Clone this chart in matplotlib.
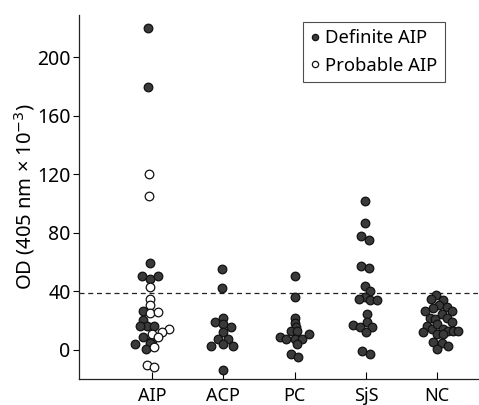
#!/usr/bin/env python3
"""OD at 405 nm per patient group, dot plot with cut-off line."""

import matplotlib

matplotlib.use("Agg")
import matplotlib.pyplot as plt
from matplotlib.lines import Line2D

plt.rcParams["font.family"] = ["Noto Sans", "DejaVu Sans"]

CATEGORIES = ["AIP", "ACP", "PC", "SjS", "NC"]
CUTOFF = 38.7

# values, (value, horizontal offset in category units)
AIP_DEFINITE = [220, 180, 59.2, 50.5, 48.7, 50.5, 26.6, 20.5, 16.4, 16.4, 16.4, 8.7, 6.4, 4.8, 3.9, 0.7]
AIP_DEFINITE_DX = [-0.06, -0.06, -0.03, -0.14, -0.03, 0.08, -0.13, -0.12, -0.07, -0.16, 0.03, -0.12, 0.0, -0.02, -0.24, -0.08]
AIP_PROBABLE = [120, 105, 43.2, 34.6, 30.7, 25, 26.2, 14.3, 12.5, 10.7, 8.7, 1.8, -10.2, -11.4]
AIP_PROBABLE_DX = [-0.04, -0.04, -0.03, -0.02, -0.02, -0.02, 0.09, 0.24, 0.14, 0.0, 0.09, 0.03, -0.07, 0.03]
ACP = [55.5, 42.5, 21.5, 19.3, 17.7, 15.9, 12.5, 7.3, 7.3, 4.1, 2.9, 2.7, -13.7]
ACP_DX = [-0.02, -0.02, 0.0, -0.12, 0.0, 0.11, -0.01, -0.07, 0.06, -0.01, -0.17, 0.14, -0.01]
PC = [50.7, 36.4, 22, 18.2, 15.5, 13, 13, 9.1, 7.5, 7.3, 7.5, 10.9, 4.1, -2.9, -4.6]
PC_DX = [0.0, 0.0, 0.0, 0.01, 0.02, -0.05, 0.04, -0.21, -0.12, 0.01, 0.1, 0.2, 0.04, -0.05, 0.05]
SJS = [101.7, 86.9, 77.8, 75.1, 57.3, 55.8, 43.9, 40.3, 36.4, 34.6, 34.1, 34.1, 24.4, 19.3, 17, 15.9, 15.5, 12.1, -0.7, -3]
SJS_DX = [-0.02, -0.02, -0.07, 0.04, -0.07, 0.04, -0.01, 0.06, -0.02, -0.1, 0.06, 0.15, 0.01, 0.01, -0.18, -0.08, 0.09, 0.0, -0.06, 0.06]
NC = [37.5, 34.6, 34.1, 30.7, 28.5, 29.6, 26.8, 26.8, 22, 21, 24.4, 22, 18.9, 16.4, 14.1, 17.7, 14.1,
      13.2, 13.2, 13.2, 12.5, 10.9, 10.9, 5.7, 4.6, 2.9, 0.5]
NC_DX = [-0.02, -0.09, 0.08, 0.02, -0.06, 0.14, 0.21, -0.18, -0.1, -0.03, 0.06, 0.14, 0.21, -0.15, -0.08, 0.0, 0.08,
         0.15, 0.22, 0.29, -0.2, 0.0, 0.08, -0.06, 0.07, 0.15, -0.01]

FILLED = dict(marker="o", linestyle="none", markersize=6.2, markerfacecolor="#3a3a3a",
              markeredgecolor="#111111", markeredgewidth=0.9)
OPEN = dict(marker="o", linestyle="none", markersize=6.2, markerfacecolor="white",
            markeredgecolor="#111111", markeredgewidth=0.9)


def _plot_group(ax, idx, values, dx, style):
    ax.plot([idx + d for d in dx], values, **style)


fig = plt.figure(figsize=(4.79, 4.05), dpi=100)
ax = fig.add_axes([0.165, 0.064, 0.833, 0.899])

ax.axhline(CUTOFF, color="#222222", linewidth=0.9, linestyle=(0, (4, 3)))

_plot_group(ax, 0, AIP_DEFINITE, AIP_DEFINITE_DX, FILLED)
_plot_group(ax, 0, AIP_PROBABLE, AIP_PROBABLE_DX, OPEN)
_plot_group(ax, 1, ACP, ACP_DX, FILLED)
_plot_group(ax, 2, PC, PC_DX, FILLED)
_plot_group(ax, 3, SJS, SJS_DX, FILLED)
_plot_group(ax, 4, NC, NC_DX, FILLED)

ax.set_xlim(-1.02, 4.57)
ax.set_ylim(-20, 229)
ax.set_yticks(range(0, 201, 40))
ax.set_xticks(range(len(CATEGORIES)))
ax.set_xticklabels(CATEGORIES)
ax.tick_params(axis="y", direction="out", length=4, width=0.8, labelsize=14, pad=2)
ax.tick_params(axis="x", direction="in", length=5, width=0.8, labelsize=13, pad=6)
for side in ("top", "right"):
    ax.spines[side].set_visible(False)
for side in ("left", "bottom"):
    ax.spines[side].set_linewidth(0.9)
    ax.spines[side].set_color("#222222")
ax.set_ylabel("OD (405 nm \u00d7 10$^{-3}$)", fontsize=14.5, labelpad=0)

handles = [
    Line2D([], [], **dict(FILLED, markersize=4.5)),
    Line2D([], [], **dict(OPEN, markersize=4.5)),
]
leg = ax.legend(handles, ["Definite AIP", "Probable AIP"], loc="upper left",
                bbox_to_anchor=(0.561, 0.981), fontsize=13.3, frameon=True, fancybox=False,
                handlelength=0.5, handletextpad=0.3, borderpad=0.4, labelspacing=0.5,
                borderaxespad=0)
leg.get_frame().set_edgecolor("#222222")
leg.get_frame().set_linewidth(0.8)

fig.savefig("out.png", dpi=100)
